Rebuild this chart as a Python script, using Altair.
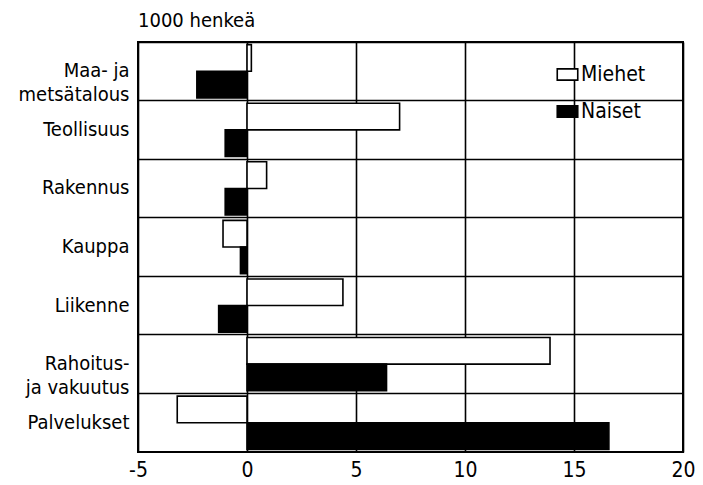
import altair as alt
import pandas as pd

categories = ["Maa- ja|metsätalous", "Teollisuus", "Rakennus", "Kauppa", "Liikenne",
              "Rahoitus-|ja vakuutus", "Palvelukset"]
series = ["Miehet", "Naiset"]
miehet = [0.2, 7.0, 0.9, -1.1, 4.4, 13.9, -3.2]
naiset = [-2.3, -1.0, -1.0, -0.3, -1.3, 6.4, 16.6]
x_ticks = [-5, 0, 5, 10, 15, 20]

rows = []
for c, m, n in zip(categories, miehet, naiset):
    rows.append({"ala": c, "sukupuoli": "Miehet", "arvo": m})
    rows.append({"ala": c, "sukupuoli": "Naiset", "arvo": n})
df = pd.DataFrame(rows)

FONT = "DejaVu Sans Condensed, Liberation Sans Narrow, sans-serif"

bars = alt.Chart(df).mark_bar(stroke="black", strokeWidth=1.6).encode(
    x=alt.X("arvo:Q",
            scale=alt.Scale(domain=[-5, 20], nice=False, zero=False),
            axis=alt.Axis(values=x_ticks, title=None, ticks=False, domain=False,
                          grid=True, gridColor="black", gridWidth=1.6, gridOpacity=1,
                          labelExpr="toString(datum.value)",
                          labelFontSize=21, labelColor="black", labelFont=FONT,
                          labelPadding=7, labelFlush=False)),
    y=alt.Y("ala:N", sort=categories,
            scale=alt.Scale(paddingInner=0, paddingOuter=0),
            axis=alt.Axis(title=None, ticks=False, domain=False, grid=True,
                          bandPosition=0, gridColor="black", gridWidth=1.6, gridOpacity=1,
                          labelExpr="split(datum.label, '|')",
                          labelFontSize=20, labelColor="black", labelFont=FONT,
                          labelLineHeight=24, labelPadding=9, labelAlign="right")),
    yOffset=alt.YOffset("sukupuoli:N", sort=series,
                        scale=alt.Scale(paddingInner=0, paddingOuter=0.1)),
    color=alt.Color("sukupuoli:N", sort=series,
                    scale=alt.Scale(domain=series, range=["white", "black"]),
                    legend=alt.Legend(title=None, orient="none", legendX=418, legendY=21,
                                      symbolType="M-1,-0.55H1V0.55H-1Z", symbolSize=420,
                                      symbolStrokeColor="black", symbolStrokeWidth=1.6,
                                      labelFontSize=21, labelFont=FONT, labelColor="black",
                                      rowPadding=15, labelOffset=2, padding=0)),
)

chart = bars.properties(
    width=545, height=410,
    title=alt.TitleParams("1000 henkeä", anchor="start", frame="group", fontSize=20,
                          fontWeight="normal", font=FONT, color="black", offset=11),
    autosize=alt.AutoSizeParams(type="none"),
    padding={"left": 130, "top": 34, "right": 12, "bottom": 30},
).configure_view(stroke="black", strokeWidth=2)

chart.save("out.html", embed_options={"renderer": "svg", "actions": False})
